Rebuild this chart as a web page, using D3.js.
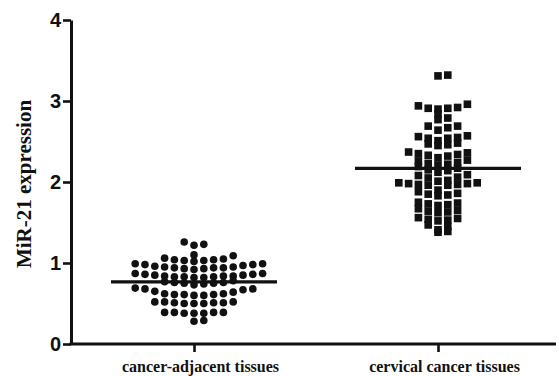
<!DOCTYPE html>
<html>
<head>
<meta charset="utf-8">
<script src="https://cdn.jsdelivr.net/npm/d3@7"></script>
<style>
  html, body { margin: 0; padding: 0; background: #fff; }
  svg { display: block; }
</style>
</head>
<body>
<svg id="chart" width="559" height="376"></svg>
<script>
// Group labels on the x axis
const categories = ["cancer-adjacent tissues", "cervical cancer tissues"];

// MiR-21 relative expression, one value per tissue sample
const adjacentValues = [
  1.22, 1.23, 1.26,
  1.02, 1.03, 1.03, 1.04, 1.04, 1.05, 1.06, 1.09, 1.10,
  0.92, 0.93, 0.93, 0.94, 0.94, 0.94, 0.95, 0.95, 0.96, 0.97, 0.98, 0.98, 0.99, 0.99,
  0.82, 0.82, 0.83, 0.83, 0.83, 0.84, 0.84, 0.84, 0.85, 0.85, 0.86, 0.86, 0.87, 0.87,
  0.73, 0.74, 0.75, 0.75, 0.76, 0.76, 0.77, 0.78,
  0.60, 0.60, 0.61, 0.61, 0.61, 0.62, 0.62, 0.64, 0.65, 0.67, 0.68, 0.68, 0.69,
  0.50, 0.50, 0.50, 0.51, 0.51, 0.51, 0.52, 0.52, 0.52,
  0.38, 0.38, 0.38, 0.39, 0.39, 0.39, 0.39,
  0.28, 0.29
];

const cervicalValues = [
  3.31, 3.32,
  2.90, 2.91, 2.91, 2.92, 2.94, 2.96,
  2.84,
  2.77, 2.79,
  2.64, 2.67, 2.69, 2.69,
  2.51, 2.54, 2.54, 2.55, 2.56, 2.57,
  2.45, 2.46, 2.47, 2.48,
  2.30, 2.32, 2.33, 2.34, 2.35, 2.36, 2.37,
  2.21, 2.22, 2.23, 2.24, 2.26, 2.27,
  2.12, 2.14, 2.15, 2.17, 2.19,
  2.01, 2.02, 2.05, 2.06, 2.08, 2.09,
  1.90, 1.96, 1.96, 1.97, 1.97, 1.98, 1.98, 1.99, 1.99,
  1.83, 1.84, 1.85, 1.86, 1.88,
  1.71, 1.72, 1.73, 1.74, 1.75,
  1.62, 1.63, 1.64, 1.65, 1.67,
  1.52, 1.53, 1.54, 1.55, 1.56,
  1.41, 1.45, 1.47,
  1.38, 1.39
];

const yTicks = [0, 1, 2, 3, 4];
const yTitle = "MiR-21 expression";

const svg = d3.select("#chart");
const ink = "#111";
const serif = "'Liberation Serif', 'Times New Roman', serif";
const sans = "'Liberation Sans', Arial, sans-serif";

const axisX = 71, axisBottomY = 344, axisTopY = 20, axisRight = 556;

const y = d3.scaleLinear().domain([0, 4]).range([axisBottomY, axisTopY]);
const x = d3.scalePoint().domain(categories).range([72, 560]).padding(0.5);

// scatter-dot layout: values are grouped into horizontal bands and the
// points of a band are spread out from the group centre in fixed columns
const bandSize = 0.1;
const colStep = 9.8;
function scatterLayout(values, cx) {
  const bands = d3.group(values, v => Math.floor(v / bandSize + 1e-6));
  const out = [];
  for (const [, vals] of bands) {
    const sorted = vals.slice().sort(d3.ascending);
    sorted.forEach((v, j) => {
      const slot = j === 0 ? 0 : (j % 2 === 1 ? (j + 1) / 2 : -j / 2);
      out.push({ value: v, x: cx + slot * colStep, y: y(v) });
    });
  }
  return out;
}

const groups = [
  { name: categories[0], values: adjacentValues, shape: "circle" },
  { name: categories[1], values: cervicalValues, shape: "square" }
];

// y axis
const yAxis = svg.append("g")
  .attr("transform", `translate(${axisX},0)`)
  .call(d3.axisLeft(y).tickValues(yTicks).tickFormat(d3.format("d")).tickSize(8).tickSizeOuter(0).tickPadding(2));
yAxis.select(".domain").attr("stroke", ink).attr("stroke-width", 3);
yAxis.selectAll(".tick line").attr("stroke", ink).attr("stroke-width", 2.6);
yAxis.selectAll(".tick text")
  .attr("fill", ink)
  .style("font-family", sans)
  .style("font-weight", "bold")
  .style("font-size", "20px");

// x axis
const xAxis = svg.append("g")
  .attr("transform", `translate(0,${axisBottomY})`)
  .call(d3.axisBottom(x).tickSize(8).tickSizeOuter(0).tickPadding(9));
xAxis.select(".domain").remove();
xAxis.append("line")
  .attr("x1", axisX - 1.5).attr("x2", axisRight)
  .attr("stroke", ink).attr("stroke-width", 3);
xAxis.selectAll(".tick line").attr("stroke", ink).attr("stroke-width", 2.6);
xAxis.selectAll(".tick text")
  .attr("fill", ink)
  .attr("dx", 6)
  .style("font-family", serif)
  .style("font-weight", "bold")
  .style("font-size", "16px");

// y axis title
svg.append("text")
  .attr("transform", `translate(31,${(axisTopY + axisBottomY) / 2 + 2}) rotate(-90)`)
  .attr("text-anchor", "middle")
  .attr("fill", ink)
  .style("font-family", serif)
  .style("font-weight", "bold")
  .style("font-size", "21px")
  .text(yTitle);

// points and mean lines
const markSize = 7.6;
groups.forEach(g => {
  const cx = x(g.name);
  const pts = scatterLayout(g.values, cx);
  const layer = svg.append("g");
  if (g.shape === "circle") {
    layer.selectAll("circle").data(pts).join("circle")
      .attr("cx", d => d.x).attr("cy", d => d.y)
      .attr("r", markSize / 2)
      .attr("fill", ink);
  } else {
    layer.selectAll("rect").data(pts).join("rect")
      .attr("x", d => d.x - markSize / 2).attr("y", d => d.y - markSize / 2)
      .attr("width", markSize).attr("height", markSize)
      .attr("fill", ink);
  }
  const m = d3.mean(g.values);
  svg.append("line")
    .attr("x1", cx - 83).attr("x2", cx + 83)
    .attr("y1", y(m)).attr("y2", y(m))
    .attr("stroke", ink).attr("stroke-width", 3.2);
});
</script>
</body>
</html>
